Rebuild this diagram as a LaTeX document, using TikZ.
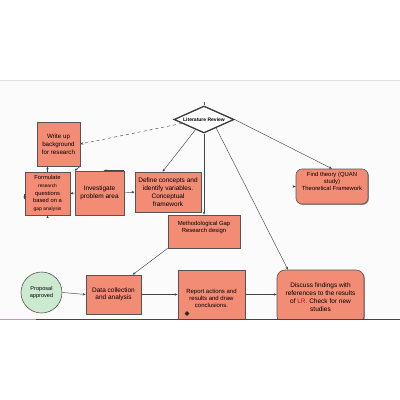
\documentclass[tikz,border=0pt]{standalone}
\usepackage{fontspec}
\setmainfont{Liberation Sans}
\usepackage{tikz}
\usetikzlibrary{shapes.geometric}
\usetikzlibrary{arrows.meta}
\usetikzlibrary{shadows}

\definecolor{salmonbox}{RGB}{242,140,117}
\definecolor{mintcircle}{RGB}{204,234,208}
\definecolor{edgegray}{RGB}{85,85,85}
\definecolor{paneback}{RGB}{251,251,251}
\definecolor{lrred}{RGB}{170,20,40}

\begin{document}
\begin{tikzpicture}[x=1pt, y=-1pt,
        box/.style={draw=edgegray, fill=salmonbox, line width=0.6pt, align=center, inner sep=1pt,
            drop shadow={shadow xshift=0.9pt, shadow yshift=-0.9pt, fill=black!70, opacity=0.6}},
        roundbox/.style={box, rounded corners=6pt},
        arr/.style={-{Stealth[length=3pt, width=2.4pt]}, edgegray!80!black, line width=0.45pt},
        txt/.style={font=\fontsize{6.5}{7.8}\selectfont}]
    \useasboundingbox (0,0) rectangle (400,400);
    % Draw the panel
    \fill[white] (0,0) rectangle (400,400);
    \fill[paneback] (0,80) rectangle (400,319.5);
    \draw[gray!25, line width=1pt] (0,80.5) -- (400,80.5);
    \begin{scope}
        \clip (0,80) rectangle (400,319.5);
        % Draw the literature review diamond
        \node[diamond, draw=edgegray!70!black, fill=white, line width=1.3pt, aspect=2.2, inner sep=0pt,
            minimum width=60pt, minimum height=27pt, font=\bfseries\fontsize{5}{6}\selectfont]
            (lit) at (204,119.5) {Literature Review};
        \draw[edgegray, line width=0.5pt] (lit.north) -- ([yshift=3pt]lit.north);
        % Draw the boxes on the left
        \node[box, font=\fontsize{6.2}{7.9}\selectfont, minimum width=43pt, minimum height=44pt] (write) at (58.5,144)
            {Write up\\ background\\ for research};
        \node[box, minimum width=45pt, minimum height=43pt, font=\fontsize{5.8}{7.7}\selectfont] (form) at (47.5,193.5)
            {Formulate\\ {\fontsize{4.8}{5}\selectfont research}\\ questions\\ based on a\\ {\fontsize{5}{5}\selectfont gap analysis}};
        \node[box, txt, minimum width=49pt, minimum height=44pt] (inv) at (99.5,193) {Investigate\\ problem area};
        \node[box, txt, minimum width=66pt, minimum height=40pt] (def) at (168,192)
            {Define concepts and\\ identify variables.\\ Conceptual\\ framework};
        \node[box, minimum width=72pt, minimum height=33pt, font=\fontsize{5.9}{7.2}\selectfont] (meth) at (204,231.5)
            {Methodological Gap\\ Research design\\[2pt]};
        \node[roundbox, minimum width=72pt, minimum height=35pt, font=\fontsize{5.9}{7.2}\selectfont] (theory) at (332,186.5)
            {Find theory (QUAN\\ study)\\ Theoretical Framework\\[3pt]};
        % Draw the bottom row
        \node[circle, draw=edgegray, fill=mintcircle, line width=0.6pt, minimum size=41pt, inner sep=0pt, align=center,
            font=\fontsize{5.6}{7}\selectfont] (prop) at (41.5,292.5) {Proposal\\ approved};
        \node[box, txt, minimum width=55pt, minimum height=39pt, font=\fontsize{6.5}{7.4}\selectfont] (data) at (113.5,294.5)
            {Data collection\\ and analysis};
        \node[box, minimum width=67pt, minimum height=56pt, font=\fontsize{6}{7}\selectfont] (report) at (211.5,298)
            {Report actions and\\ results and draw\\ conclusions.};
        \node[roundbox, minimum width=87pt, minimum height=54pt, rounded corners=8pt, font=\fontsize{6.5}{8.2}\selectfont]
            (disc) at (320.5,297)
            {Discuss findings with\\ references to the results\\ of {\color{lrred}LR.} Check for new\\ studies};
        \node[diamond, fill=black!85, inner sep=0pt, minimum width=5pt, minimum height=5pt] (mark) at (187,313.5) {};
        % Draw the connectors
        \draw[arr, dashed] (lit.190) -- (write.east);
        \draw[arr] (lit.230) -- (def.105);
        \draw[arr] (lit.south) -- (meth.north);
        \draw[arr] (lit.-35) -- (disc.140);
        \draw[arr] (lit.east) -- (theory.north);
        \draw[arr] (form.north) -- (form.north |- write.south);
        \draw[arr] (write.south east) -- (inv.north west);
        \draw[arr] (inv.north east) -- ([xshift=4pt]inv.north);
        \draw[arr] (inv.east) -- (def.west);
        \draw[arr] (inv.west) -- (form.east);
        \draw[arr] (form.west) -- ([yshift=-6pt]form.west);
        \draw[arr] ([yshift=-3pt]form.south) -- (form.south);
        \draw[arr] ([xshift=-3pt]theory.west) -- (theory.west);
        \draw[arr] (meth.south west) -- (data.46);
        \draw[arr] (prop.east) -- (data.west);
        \draw[arr] (data.east) -- (data.east -| report.west);
        \draw[arr] (data.east -| report.east) -- (data.east -| disc.west);
    \end{scope}
    % Draw the bottom rule
    \draw[edgegray!80!black, line width=1pt] (0,319.5) -- (400,319.5);
    \draw[orange!85, line width=1pt] (0,319.5) -- (36,319.5);
\end{tikzpicture}
\end{document}
